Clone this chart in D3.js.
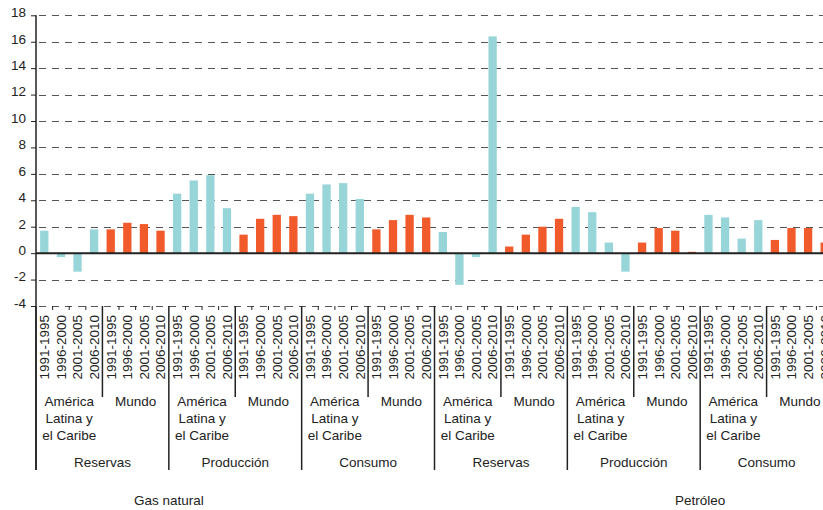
<!DOCTYPE html>
<html>
<head>
<meta charset="utf-8">
<script src="https://cdn.jsdelivr.net/npm/d3@7"></script>
<style>
  body { margin: 0; overflow: hidden; background: #fff; }
  text { font-family: "Liberation Sans", Arial, sans-serif; fill: #222; }
</style>
</head>
<body>
<svg id="chart" width="850" height="510"></svg>
<script>
// periods, regions, indicators, fuels
const periods = ["1991-1995", "1996-2000", "2001-2005", "2006-2010"];
const regions = ["América Latina y el Caribe", "Mundo"];
const indicators = ["Reservas", "Producción", "Consumo"];
const fuels = ["Gas natural", "Petróleo"];
const yTicks = [-4, -2, 0, 2, 4, 6, 8, 10, 12, 14, 16, 18];

// tasas de variación (%)
const gasReservasALC = [1.7, -0.3, -1.4, 1.8];
const gasReservasMundo = [1.8, 2.3, 2.2, 1.7];
const gasProduccionALC = [4.5, 5.5, 5.9, 3.4];
const gasProduccionMundo = [1.4, 2.6, 2.9, 2.8];
const gasConsumoALC = [4.5, 5.2, 5.3, 4.1];
const gasConsumoMundo = [1.8, 2.5, 2.9, 2.7];
const petReservasALC = [1.6, -2.4, -0.3, 16.4];
const petReservasMundo = [0.5, 1.4, 2.0, 2.6];
const petProduccionALC = [3.5, 3.1, 0.8, -1.4];
const petProduccionMundo = [0.8, 1.9, 1.7, 0.1];
const petConsumoALC = [2.9, 2.7, 1.1, 2.5];
const petConsumoMundo = [1.0, 1.9, 1.9, 0.8];

const series = [
  [[gasReservasALC, gasReservasMundo], [gasProduccionALC, gasProduccionMundo], [gasConsumoALC, gasConsumoMundo]],
  [[petReservasALC, petReservasMundo], [petProduccionALC, petProduccionMundo], [petConsumoALC, petConsumoMundo]]
];

const colors = ["#97d5d8", "#f15a2b"];

// tabla plana
const data = [];
fuels.forEach((f, fi) => indicators.forEach((ind, ii) => regions.forEach((r, ri) => periods.forEach((p, pi) => {
  data.push({ key: data.length, fuel: fi, ind: ii, region: ri, period: p, value: series[fi][ii][ri][pi] });
}))));

const svg = d3.select("#chart");
const plotLeft = 36, plotRight = 833, plotTop = 15.3, plotBottom = 306;

const x = d3.scaleBand().domain(data.map((d) => d.key)).range([plotLeft, plotRight])
  .paddingInner(0.5).paddingOuter(0.25);
const step = x.step();
const edge = (i) => plotLeft + i * step; // límite entre ranuras

const y = d3.scaleLinear().domain([-4, 18]).range([plotBottom, plotTop]);

// líneas de cuadrícula punteadas
svg.append("g")
  .selectAll("line")
  .data(yTicks.filter((d) => d !== 0))
  .enter()
  .append("line")
  .attr("x1", plotLeft)
  .attr("x2", 850)
  .attr("y1", (d) => Math.round(y(d)) + 0.5)
  .attr("y2", (d) => Math.round(y(d)) + 0.5)
  .attr("stroke", "#555")
  .attr("stroke-width", 1)
  .attr("stroke-dasharray", "7,6")
  .attr("stroke-dashoffset", -3);

// eje y
svg.append("g")
  .attr("transform", "translate(" + plotLeft + ",0)")
  .call(d3.axisLeft(y).tickValues(yTicks).tickSize(5).tickPadding(5).tickFormat((d) => d))
  .call((g) => g.select(".domain").attr("stroke", "#222").attr("stroke-width", 1.5)
    .attr("d", "M0," + y(18) + "V" + (plotBottom + 164)))
  .call((g) => g.selectAll(".tick line").attr("stroke", "#222"))
  .call((g) => g.selectAll(".tick text")
    .attr("font-size", "13.5px")
    .attr("font-family", "'Liberation Sans', Arial, sans-serif")
    .attr("fill", "#222")
    .attr("dy", "0.1em"));

// barras
svg.append("g")
  .selectAll(".bar")
  .data(data)
  .enter()
  .append("rect")
  .attr("class", "bar")
  .attr("x", (d) => x(d.key))
  .attr("width", x.bandwidth())
  .attr("y", (d) => y(Math.max(0, d.value)))
  .attr("height", (d) => Math.abs(y(d.value) - y(0)))
  .attr("fill", (d) => colors[d.region]);

// línea del cero
svg.append("line")
  .attr("x1", plotLeft)
  .attr("x2", 850)
  .attr("y1", y(0))
  .attr("y2", y(0))
  .attr("stroke", "#222")
  .attr("stroke-width", 2);

// marcas del eje x en los límites
const axisG = svg.append("g");
axisG.selectAll(".xtick")
  .data(d3.range(data.length + 1))
  .enter()
  .append("line")
  .attr("x1", (i) => edge(i))
  .attr("x2", (i) => edge(i))
  .attr("y1", plotBottom)
  .attr("y2", (i) => i % 8 === 0 ? plotBottom + 164 : i % 4 === 0 ? plotBottom + 91 : plotBottom + 4)
  .attr("stroke", "#222")
  .attr("stroke-width", (i) => i % 4 === 0 ? 1.5 : 1);

// etiquetas de período
axisG.selectAll(".period")
  .data(data)
  .enter()
  .append("text")
  .attr("transform", (d) => "translate(" + (x(d.key) + x.bandwidth() / 2) + "," + (plotBottom + 9) + ") rotate(-90)")
  .attr("dy", "0.36em")
  .attr("text-anchor", "end")
  .attr("font-size", "13.5px")
  .text((d) => d.period);

// etiquetas de región
const regionLabels = [];
fuels.forEach((f, fi) => indicators.forEach((ind, ii) => regions.forEach((r, ri) => {
  regionLabels.push({ start: (fi * 6 + ii * 2 + ri) * 4, region: ri });
})));
const regionLines = [["América", "Latina y", "el Caribe"], ["Mundo"]];
regionLabels.forEach((d) => {
  const t = axisG.append("text")
    .attr("x", edge(d.start + 2))
    .attr("y", 406)
    .attr("text-anchor", "middle")
    .attr("font-size", "13.5px");
  regionLines[d.region].forEach((line, li) => {
    t.append("tspan").attr("x", edge(d.start + 2)).attr("dy", li === 0 ? 0 : 17).text(line);
  });
});

// etiquetas de indicador
fuels.forEach((f, fi) => indicators.forEach((ind, ii) => {
  axisG.append("text")
    .attr("x", edge((fi * 3 + ii) * 8 + 4))
    .attr("y", 467)
    .attr("text-anchor", "middle")
    .attr("font-size", "13.5px")
    .text(ind);
}));

// etiquetas de combustible (posición como en el original)
const fuelAt = [8, 40];
fuels.forEach((f, fi) => {
  svg.append("text")
    .attr("x", edge(fuelAt[fi]))
    .attr("y", 505)
    .attr("text-anchor", "middle")
    .attr("font-size", "13.5px")
    .text(f);
});
</script>
</body>
</html>
